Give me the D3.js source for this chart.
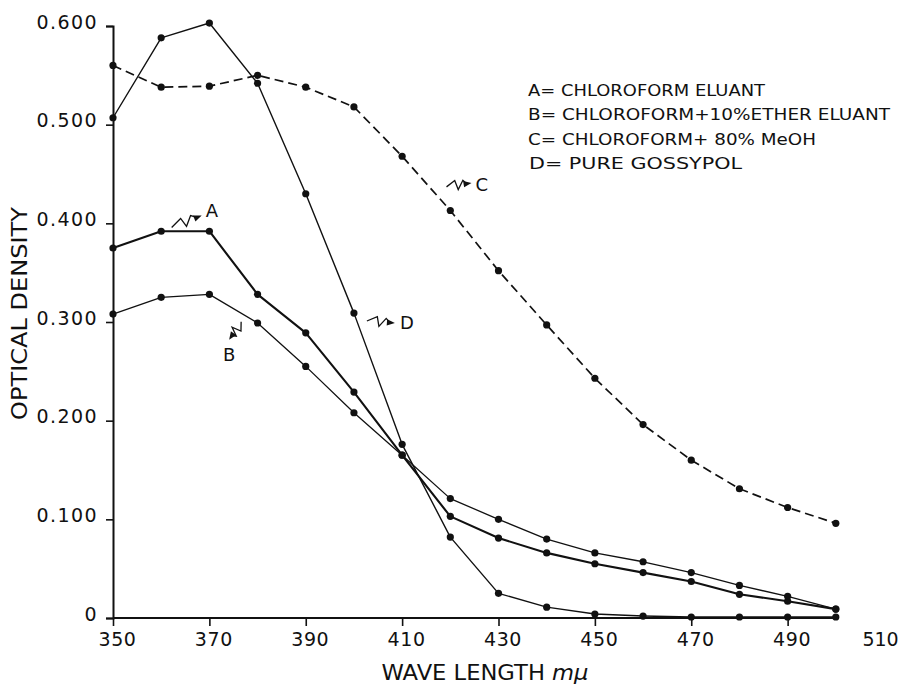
<!DOCTYPE html>
<html>
<head>
<meta charset="utf-8">
<script src="https://cdn.jsdelivr.net/npm/d3@7"></script>
<style>
  html, body { margin: 0; padding: 0; background: #fff; }
  svg { display: block; }
  text { font-family: "DejaVu Sans", sans-serif; fill: #111; }
</style>
</head>
<body>
<svg id="chart" width="901" height="695"></svg>
<script>
// Absorption spectra, optical density vs wave length (mμ)
const wavelengths = [350, 360, 370, 380, 390, 400, 410, 420, 430, 440, 450, 460, 470, 480, 490, 500];

// A = chloroform eluant
const seriesA = [0.375, 0.392, 0.392, 0.328, 0.289, 0.229, 0.165, 0.103, 0.081, 0.066, 0.055, 0.046, 0.037, 0.024, 0.017, 0.009];
// B = chloroform + 10% ether eluant
const seriesB = [0.308, 0.325, 0.328, 0.299, 0.255, 0.208, 0.165, 0.121, 0.100, 0.080, 0.066, 0.057, 0.046, 0.033, 0.022, 0.009];
// C = chloroform + 80% MeOH
const seriesC = [0.560, 0.538, 0.539, 0.550, 0.538, 0.518, 0.468, 0.413, 0.352, 0.297, 0.243, 0.196, 0.160, 0.131, 0.112, 0.096];
// D = pure gossypol
const seriesD = [0.507, 0.588, 0.603, 0.542, 0.430, 0.309, 0.176, 0.082, 0.025, 0.011, 0.004, 0.002, 0.001, 0.001, 0.001, 0.001];

const xTickValues = [350, 370, 390, 410, 430, 450, 470, 490, 510];
const yTickValues = [0, 0.1, 0.2, 0.3, 0.4, 0.5, 0.6];
const yTickLabels = ["0", "0.100", "0.200", "0.300", "0.400", "0.500", "0.600"];

const legendLabels = [
  "A= CHLOROFORM ELUANT",
  "B= CHLOROFORM+10%ETHER ELUANT",
  "C= CHLOROFORM+ 80% MeOH",
  "D= PURE GOSSYPOL"
];

const svg = d3.select("#chart");

const x = d3.scaleLinear().domain([350, 510]).range([113, 884]);
const y = d3.scaleLinear().domain([0, 0.6]).range([618, 26]);

// ---- axes ----
const yAxis = d3.axisLeft(y)
  .tickValues(yTickValues)
  .tickFormat((d, i) => yTickLabels[i])
  .tickSizeOuter(0)
  .tickSize(7)
  .tickPadding(8);

const gy = svg.append("g").attr("transform", `translate(${x(350)},0)`).call(yAxis);
gy.select(".domain").attr("stroke", "#111").attr("stroke-width", 2);
gy.selectAll(".tick line").attr("stroke", "#111").attr("stroke-width", 1.6);
gy.selectAll(".tick text")
  .attr("font-size", 19)
  .attr("letter-spacing", "1.4px")
  .attr("y", -4)
  .style("font-family", '"DejaVu Sans", sans-serif')
  .attr("fill", "#111");

const xAxis = d3.axisBottom(x)
  .tickValues(xTickValues)
  .tickFormat(d3.format("d"))
  .tickSizeOuter(0)
  .tickSize(8)
  .tickPadding(7);

const gx = svg.append("g").attr("transform", `translate(0,${y(0)})`).call(xAxis);
gx.select(".domain").remove();
gx.selectAll(".tick line")
  .attr("stroke", "#111").attr("stroke-width", 1.6)
  .attr("opacity", d => d > 500 ? 0 : 1);
gx.selectAll(".tick text")
  .attr("font-size", 19)
  .attr("letter-spacing", d => d > 500 ? "0px" : "0.6px")
  .attr("x", d => d > 500 ? -4 : 4)
  .style("font-family", '"DejaVu Sans", sans-serif')
  .attr("fill", "#111");

// base line runs only as far as the last measured wave length
svg.append("line")
  .attr("x1", x(350)).attr("x2", x(d3.max(wavelengths)))
  .attr("y1", y(0)).attr("y2", y(0))
  .attr("stroke", "#111").attr("stroke-width", 2);

// ---- axis titles ----
svg.append("text")
  .attr("transform", `translate(${27},${313.5}) rotate(-90)`)
  .attr("text-anchor", "middle")
  .attr("font-size", 20.5)
  .attr("textLength", 213)
  .attr("lengthAdjust", "spacingAndGlyphs")
  .text("OPTICAL DENSITY");

const xt = svg.append("text")
  .attr("x", 485).attr("y", 679.5)
  .attr("text-anchor", "middle")
  .attr("font-size", 21.5)
  .attr("textLength", 207)
  .attr("lengthAdjust", "spacingAndGlyphs");
xt.append("tspan").text("WAVE LENGTH ");
xt.append("tspan").attr("font-style", "italic").text("mμ");

// ---- curves ----
const curves = [
  { name: "A", values: seriesA, width: 2.1, dash: null },
  { name: "B", values: seriesB, width: 1.3, dash: null },
  { name: "C", values: seriesC, width: 1.7, dash: "9,5" },
  { name: "D", values: seriesD, width: 1.4, dash: null }
];

const line = d3.line()
  .x(d => x(d[0]))
  .y(d => y(d[1]));

curves.forEach(c => {
  const pts = wavelengths.map((w, i) => [w, c.values[i]]);
  svg.append("path")
    .datum(pts)
    .attr("d", line)
    .attr("fill", "none")
    .attr("stroke", "#111")
    .attr("stroke-width", c.width)
    .attr("stroke-linejoin", "round")
    .attr("stroke-dasharray", c.dash);
  svg.append("g").selectAll("circle")
    .data(pts)
    .join("circle")
    .attr("cx", d => x(d[0]))
    .attr("cy", d => y(d[1]))
    .attr("r", 3.6)
    .attr("fill", "#111");
});

// ---- curve labels with squiggle arrows ----
const labelTips = [
  { name: "A", wl: 368.4, od: 0.408, from: [-30, 12], dx: 4, dy: 2, anchor: "start" },
  { name: "B", wl: 374.1, od: 0.282, from: [12, -18], dx: 0, dy: 21, anchor: "middle" },
  { name: "C", wl: 424.4, od: 0.441, from: [-25, 4], dx: 4, dy: 8, anchor: "start" },
  { name: "D", wl: 408.5, od: 0.299, from: [-28, -2], dx: 5, dy: 6, anchor: "start" }
];

labelTips.forEach(t => {
  const tx = x(t.wl), ty = y(t.od);
  const sx = tx + t.from[0], sy = ty + t.from[1];
  const dxv = tx - sx, dyv = ty - sy;
  const L = Math.hypot(dxv, dyv);
  const ux = dxv / L, uy = dyv / L;
  const nx = -uy, ny = ux;
  const at = (f, p) => [sx + dxv * f + nx * p, sy + dyv * f + ny * p];
  const shaftEnd = [tx - ux * 5, ty - uy * 5];
  const pts = [[sx, sy], at(0.36, -5), at(0.44, 4.5), at(0.68, -4), shaftEnd];
  svg.append("path")
    .attr("d", d3.line()(pts))
    .attr("fill", "none")
    .attr("stroke", "#111")
    .attr("stroke-width", 1.3);
  const head = [[tx, ty], [tx - ux * 8 + nx * 3.2, ty - uy * 8 + ny * 3.2], [tx - ux * 8 - nx * 3.2, ty - uy * 8 - ny * 3.2]];
  svg.append("path")
    .attr("d", d3.line()(head) + "Z")
    .attr("fill", "#111");
  svg.append("text")
    .attr("x", tx + t.dx).attr("y", ty + t.dy)
    .attr("text-anchor", t.anchor)
    .attr("font-size", 18)
    .text(t.name);
});

// ---- legend ----
const legendWidths = [237, 362, 288, 213];
svg.append("g").selectAll("text")
  .data(legendLabels)
  .join("text")
  .attr("x", (d, i) => i === 3 ? 529 : 528)
  .attr("y", (d, i) => 96 + i * 24.4)
  .attr("font-size", 16.5)
  .attr("textLength", (d, i) => legendWidths[i])
  .attr("lengthAdjust", "spacingAndGlyphs")
  .text(d => d);
</script>
</body>
</html>
